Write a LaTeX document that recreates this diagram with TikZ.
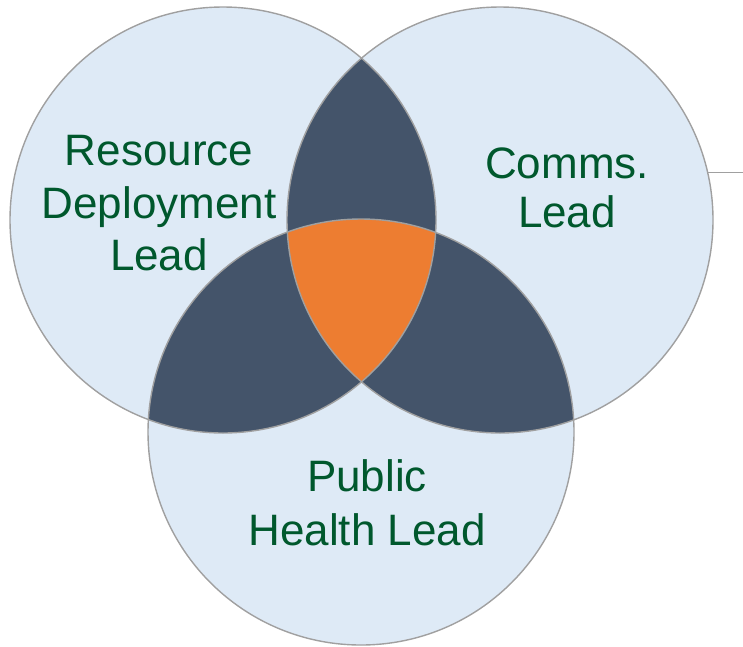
\documentclass[tikz,border=0pt]{standalone}
\usepackage{fontspec}
\setmainfont{Liberation Sans}
\definecolor{vlight}{HTML}{DEEAF6}
\definecolor{vdark}{HTML}{44546A}
\definecolor{vorange}{HTML}{ED7D31}
\definecolor{vgreen}{HTML}{00582D}
\definecolor{vedge}{HTML}{A0A0A0}
\begin{document}
\begin{tikzpicture}[x=1pt,y=-1pt,
  vennset/.style={circle,minimum size=426pt,inner sep=0pt,outer sep=0pt,fill=vlight},
  outline/.style={draw=vedge,line width=1.4pt},
  vlabel/.style={text=vgreen,align=center,inner sep=0pt}]
\useasboundingbox (0,0) rectangle (743,646);
\node[vennset] (L) at (223,220) {};
\node[vennset] (R) at (500,220) {};
\node[vennset] (B) at (361,432) {};
% pairwise intersections
\begin{scope}
  \clip (L.center) circle (213pt);
  \fill[vdark] (R.center) circle (213pt);
  \fill[vdark] (B.center) circle (213pt);
\end{scope}
\begin{scope}
  \clip (R.center) circle (213pt);
  \fill[vdark] (B.center) circle (213pt);
\end{scope}
% triple intersection
\begin{scope}
  \clip (L.center) circle (213pt);
  \clip (R.center) circle (213pt);
  \fill[vorange] (B.center) circle (213pt);
\end{scope}
% outlines
\draw[outline] (L.center) circle (213pt);
\draw[outline] (R.center) circle (213pt);
\draw[outline] (B.center) circle (213pt);
% line leaving the right circle
\coordinate (edge) at (743,170);
\draw[vedge,line width=1pt] (R.13.57) -- (R.13.57 -| edge);
% labels
\node[vlabel,font=\fontsize{44}{52.5}\selectfont] (tL) at (159,203.5) {Resource\\Deployment\\Lead};
\node[vlabel,font=\fontsize{44}{49}\selectfont] (tR) at (567,188) {Comms.\\Lead};
\node[vlabel,font=\fontsize{44}{54}\selectfont] (tB) at (367,502.5) {Public\\Health Lead};
\end{tikzpicture}
\end{document}
